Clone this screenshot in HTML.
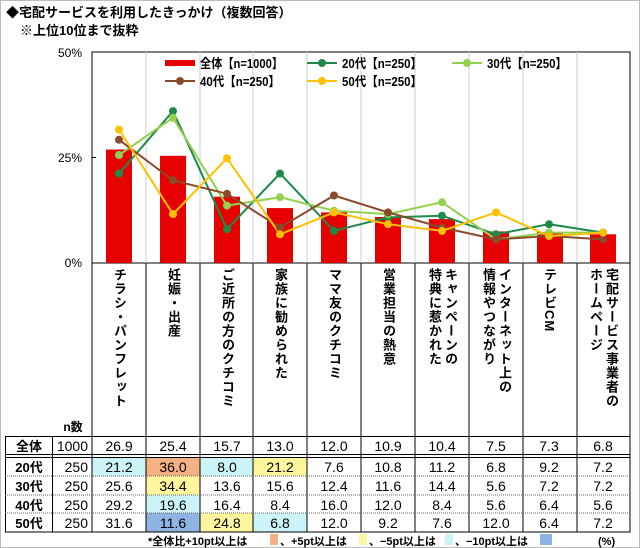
<!DOCTYPE html>
<html><head><meta charset="utf-8"><style>
html,body{margin:0;padding:0;background:#fff;}
body{width:640px;height:548px;position:relative;overflow:hidden;font-family:"Liberation Sans","Noto Sans CJK JP",sans-serif;}
.vl{position:absolute;top:268px;writing-mode:vertical-rl;font-size:13px;font-weight:bold;line-height:16px;letter-spacing:1px;color:#000;}
</style></head><body>
<svg width="640" height="548" style="position:absolute;left:0;top:0" font-family="Liberation Sans, Noto Sans CJK JP, sans-serif">
<rect x="0.5" y="0.5" width="639" height="547" fill="none" stroke="#bbb"/>
<text x="6" y="17" font-size="13" font-weight="bold">◆宅配サービスを利用したきっかけ（複数回答）</text>
<text x="20" y="35" font-size="13" font-weight="bold">※上位10位まで抜粋</text>
<g font-size="12" text-anchor="end">
<text x="82" y="57">50%</text><text x="82" y="162">25%</text><text x="82" y="267">0%</text>
</g>
<rect x="92" y="52" width="538" height="211" fill="none" stroke="#000"/>
<g stroke="#ccc">
<line x1="146" y1="52" x2="146" y2="263"/><line x1="200" y1="52" x2="200" y2="263"/><line x1="253" y1="52" x2="253" y2="263"/><line x1="307" y1="52" x2="307" y2="263"/><line x1="361" y1="52" x2="361" y2="263"/><line x1="415" y1="52" x2="415" y2="263"/><line x1="469" y1="52" x2="469" y2="263"/><line x1="523" y1="52" x2="523" y2="263"/><line x1="577" y1="52" x2="577" y2="263"/>
</g>
<line x1="92" y1="157.5" x2="96" y2="157.5" stroke="#000"/>
<g fill="#e60000">
<rect x="106" y="149.5" width="26" height="113.5"/>
<rect x="160" y="155.8" width="26" height="107.2"/>
<rect x="214" y="196.7" width="26" height="66.3"/>
<rect x="267" y="208.1" width="26" height="54.9"/>
<rect x="321" y="212.4" width="26" height="50.6"/>
<rect x="375" y="217" width="26" height="46"/>
<rect x="429" y="219.1" width="26" height="43.9"/>
<rect x="483" y="231.4" width="26" height="31.6"/>
<rect x="537" y="232.2" width="26" height="30.8"/>
<rect x="590" y="234.3" width="26" height="28.7"/>
</g>
<g fill="none" stroke-width="2">
<polyline stroke="#1e8a4a" points="119,173.5 173,111.1 227,229.2 280,173.5 334,230.9 388,217.4 442,215.7 496,234.3 549,224.2 603,232.6"/>
<polyline stroke="#92d050" points="119,155 173,117.8 227,205.6 280,197.2 334,210.7 388,214.1 442,202.2 496,239.4 549,232.6 603,232.6"/>
<polyline stroke="#8b4a2b" points="119,139.8 173,180.3 227,193.8 280,227.5 334,195.5 388,212.4 442,227.5 496,239.4 549,236 603,239.4"/>
<polyline stroke="#ffc000" points="119,129.6 173,214.1 227,158.3 280,234.3 334,212.4 388,224.2 442,230.9 496,212.4 549,236 603,232.6"/>
</g>
<g fill="#1e8a4a"><circle cx="119" cy="173.5" r="4"/><circle cx="173" cy="111.1" r="4"/><circle cx="227" cy="229.2" r="4"/><circle cx="280" cy="173.5" r="4"/><circle cx="334" cy="230.9" r="4"/><circle cx="388" cy="217.4" r="4"/><circle cx="442" cy="215.7" r="4"/><circle cx="496" cy="234.3" r="4"/><circle cx="549" cy="224.2" r="4"/><circle cx="603" cy="232.6" r="4"/></g>
<g fill="#92d050"><circle cx="119" cy="155" r="4"/><circle cx="173" cy="117.8" r="4"/><circle cx="227" cy="205.6" r="4"/><circle cx="280" cy="197.2" r="4"/><circle cx="334" cy="210.7" r="4"/><circle cx="388" cy="214.1" r="4"/><circle cx="442" cy="202.2" r="4"/><circle cx="496" cy="239.4" r="4"/><circle cx="549" cy="232.6" r="4"/><circle cx="603" cy="232.6" r="4"/></g>
<g fill="#8b4a2b"><circle cx="119" cy="139.8" r="4"/><circle cx="173" cy="180.3" r="4"/><circle cx="227" cy="193.8" r="4"/><circle cx="280" cy="227.5" r="4"/><circle cx="334" cy="195.5" r="4"/><circle cx="388" cy="212.4" r="4"/><circle cx="442" cy="227.5" r="4"/><circle cx="496" cy="239.4" r="4"/><circle cx="549" cy="236" r="4"/><circle cx="603" cy="239.4" r="4"/></g>
<g fill="#ffc000"><circle cx="119" cy="129.6" r="4"/><circle cx="173" cy="214.1" r="4"/><circle cx="227" cy="158.3" r="4"/><circle cx="280" cy="234.3" r="4"/><circle cx="334" cy="212.4" r="4"/><circle cx="388" cy="224.2" r="4"/><circle cx="442" cy="230.9" r="4"/><circle cx="496" cy="212.4" r="4"/><circle cx="549" cy="236" r="4"/><circle cx="603" cy="232.6" r="4"/></g>
<g font-size="13" font-weight="bold">
<rect x="165" y="60" width="30" height="6" fill="#e60000"/><text x="200" y="68" textLength="83" lengthAdjust="spacingAndGlyphs">全体【n=1000】</text>
<line x1="307" y1="63" x2="337" y2="63" stroke="#1e8a4a" stroke-width="2"/><circle cx="322" cy="63" r="4" fill="#1e8a4a"/><text x="342" y="68" textLength="80" lengthAdjust="spacingAndGlyphs">20代【n=250】</text>
<line x1="452" y1="63" x2="482" y2="63" stroke="#92d050" stroke-width="2"/><circle cx="467" cy="63" r="4" fill="#92d050"/><text x="487" y="68" textLength="80" lengthAdjust="spacingAndGlyphs">30代【n=250】</text>
<line x1="165" y1="81" x2="195" y2="81" stroke="#8b4a2b" stroke-width="2"/><circle cx="180" cy="81" r="4" fill="#8b4a2b"/><text x="200" y="86" textLength="80" lengthAdjust="spacingAndGlyphs">40代【n=250】</text>
<line x1="307" y1="81" x2="337" y2="81" stroke="#ffc000" stroke-width="2"/><circle cx="322" cy="81" r="4" fill="#ffc000"/><text x="342" y="86" textLength="80" lengthAdjust="spacingAndGlyphs">50代【n=250】</text>
</g>
<rect x="92" y="457" width="54" height="19" fill="#ccf3f8"/>
<rect x="146" y="457" width="54" height="19" fill="#f4b183"/>
<rect x="200" y="457" width="53" height="19" fill="#ccf3f8"/>
<rect x="253" y="457" width="54" height="19" fill="#fff59d"/>
<rect x="146" y="476" width="54" height="19" fill="#fff59d"/>
<rect x="146" y="495" width="54" height="18" fill="#ccf3f8"/>
<rect x="146" y="513" width="54" height="19" fill="#8fb4e3"/>
<rect x="200" y="513" width="53" height="19" fill="#fff59d"/>
<rect x="253" y="513" width="54" height="19" fill="#ccf3f8"/>
<g stroke="#000" fill="none">
<rect x="5.5" y="436.5" width="624.5" height="95.5"/>
<line x1="5" y1="454.5" x2="630" y2="454.5"/><line x1="5" y1="457.5" x2="630" y2="457.5"/>
<line x1="52.5" y1="436" x2="52.5" y2="532"/>
<line x1="92" y1="263" x2="92" y2="532"/>
<line x1="146" y1="263" x2="146" y2="532"/><line x1="200" y1="263" x2="200" y2="532"/><line x1="253" y1="263" x2="253" y2="532"/><line x1="307" y1="263" x2="307" y2="532"/><line x1="361" y1="263" x2="361" y2="532"/><line x1="415" y1="263" x2="415" y2="532"/><line x1="469" y1="263" x2="469" y2="532"/><line x1="523" y1="263" x2="523" y2="532"/><line x1="577" y1="263" x2="577" y2="532"/><line x1="630" y1="263" x2="630" y2="532"/>
</g>
<g stroke="#666" stroke-dasharray="1,1"><line x1="5" y1="476" x2="630" y2="476"/><line x1="5" y1="495" x2="630" y2="495"/><line x1="5" y1="513" x2="630" y2="513"/></g>
<g font-size="14" text-anchor="middle">
<text x="73" y="431" font-size="12" font-weight="bold">n数</text>
<g font-weight="bold" font-size="13"><text x="29" y="451">全体</text><text x="29" y="472">20代</text><text x="29" y="491">30代</text><text x="29" y="510">40代</text><text x="29" y="528">50代</text></g>
<g text-anchor="end"><text x="88" y="451">1000</text><text x="88" y="472">250</text><text x="88" y="491">250</text><text x="88" y="510">250</text><text x="88" y="528">250</text></g>
<text y="451"><tspan x="119">26.9</tspan><tspan x="173">25.4</tspan><tspan x="227">15.7</tspan><tspan x="280">13.0</tspan><tspan x="334">12.0</tspan><tspan x="388">10.9</tspan><tspan x="442">10.4</tspan><tspan x="496">7.5</tspan><tspan x="549">7.3</tspan><tspan x="603">6.8</tspan></text>
<text y="472"><tspan x="119">21.2</tspan><tspan x="173">36.0</tspan><tspan x="227">8.0</tspan><tspan x="280">21.2</tspan><tspan x="334">7.6</tspan><tspan x="388">10.8</tspan><tspan x="442">11.2</tspan><tspan x="496">6.8</tspan><tspan x="549">9.2</tspan><tspan x="603">7.2</tspan></text>
<text y="491"><tspan x="119">25.6</tspan><tspan x="173">34.4</tspan><tspan x="227">13.6</tspan><tspan x="280">15.6</tspan><tspan x="334">12.4</tspan><tspan x="388">11.6</tspan><tspan x="442">14.4</tspan><tspan x="496">5.6</tspan><tspan x="549">7.2</tspan><tspan x="603">7.2</tspan></text>
<text y="510"><tspan x="119">29.2</tspan><tspan x="173">19.6</tspan><tspan x="227">16.4</tspan><tspan x="280">8.4</tspan><tspan x="334">16.0</tspan><tspan x="388">12.0</tspan><tspan x="442">8.4</tspan><tspan x="496">5.6</tspan><tspan x="549">6.4</tspan><tspan x="603">5.6</tspan></text>
<text y="528"><tspan x="119">31.6</tspan><tspan x="173">11.6</tspan><tspan x="227">24.8</tspan><tspan x="280">6.8</tspan><tspan x="334">12.0</tspan><tspan x="388">9.2</tspan><tspan x="442">7.6</tspan><tspan x="496">12.0</tspan><tspan x="549">6.4</tspan><tspan x="603">7.2</tspan></text>
</g>
<g font-size="11" font-weight="bold">
<text x="148" y="545">*全体比+10pt以上は</text><rect x="270" y="534" width="8" height="11" fill="#f4b183"/>
<text x="280" y="545">、+5pt以上は</text><rect x="359" y="534" width="8" height="11" fill="#fff59d"/>
<text x="369" y="545">、−5pt以上は</text><rect x="445" y="534" width="8" height="11" fill="#ccf3f8"/>
<text x="455" y="545">、−10pt以上は</text><rect x="540" y="534" width="12" height="11" fill="#8fb4e3"/>
<text x="598" y="545">(%)</text>
</g>
</svg>
<div class="vl" style="left:111px">チラシ・パンフレット</div>
<div class="vl" style="left:165px">妊娠・出産</div>
<div class="vl" style="left:219px">ご近所の方のクチコミ</div>
<div class="vl" style="left:272px">家族に勧められた</div>
<div class="vl" style="left:326px">ママ友のクチコミ</div>
<div class="vl" style="left:380px">営業担当の熱意</div>
<div class="vl" style="left:426px">キャンペーンの<br>特典に惹かれた</div>
<div class="vl" style="left:480px">インターネット上の<br>情報やつながり</div>
<div class="vl" style="left:541px">テレビCM</div>
<div class="vl" style="left:587px">宅配サービス事業者の<br>ホームページ</div>
</body></html>
